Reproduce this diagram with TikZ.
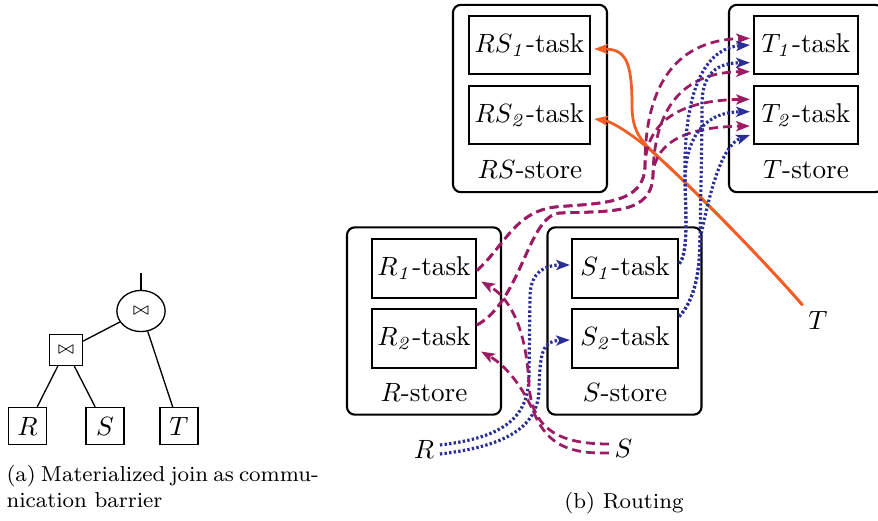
\documentclass[tikz,border=0pt]{standalone}
\usetikzlibrary{arrows.meta,calc,shapes.geometric}
\definecolor{routepurple}{RGB}{155,28,100}
\definecolor{routeblue}{RGB}{42,46,150}
\definecolor{routeorange}{RGB}{242,95,38}
\newcommand{\capsize}{\fontsize{8.2}{10}\selectfont}
\newcommand{\boxsize}{\fontsize{10.3}{12}\selectfont}
\newcommand{\joinsym}{{\fontsize{5.6}{6}\selectfont$\bowtie$}}
\begin{document}
\begin{tikzpicture}[x=0.379pt,y=-0.379pt,
  treebox/.style={draw, line width=0.5pt, minimum width=14.5pt, minimum height=14pt, inner sep=0pt},
  joinbox/.style={draw, line width=0.5pt, minimum width=12.5pt, minimum height=11.8pt, inner sep=0pt},
  joinoval/.style={draw, ellipse, line width=0.5pt, minimum width=18.3pt, minimum height=15.6pt, inner sep=0pt},
  store/.style={draw, line width=0.8pt, rounded corners=3pt, minimum width=58.4pt, minimum height=71pt, inner sep=0pt},
  task/.style={draw, line width=0.8pt, minimum height=22.2pt, inner xsep=2pt, font=\boxsize},
  storename/.style={inner sep=1pt, font=\boxsize},
  endname/.style={inner sep=2pt, font=\boxsize},
  tip/.style={-{Stealth[length=5.2pt,width=3.8pt,inset=1.2pt]}},
  rflow/.style={routepurple, line width=1.05pt, dash pattern=on 3.4pt off 1.9pt, tip},
  sflow/.style={routeblue, line width=1.2pt, dash pattern=on 0.9pt off 0.85pt, tip},
  tflow/.style={routeorange, line width=1.05pt, tip},
]
\useasboundingbox (0,0) rectangle (878,521);
\clip (0,0) rectangle (878,521);

% ---------- (a) plan with a materialized join ----------
\node[joinoval] (j2) at (141,311) {\joinsym};
\coordinate (jtop) at (141,273);
\node[joinbox] (j1) at (66,350) {\joinsym};
\node[treebox] (lr) at (27.5,426) {$R$};
\node[treebox] (ls) at (105,426) {$S$};
\node[treebox] (lt) at (179,426) {$T$};
\draw[line width=0.5pt] (j2.north) -- (jtop);
\draw[line width=0.5pt] (j1) -- (j2);
\draw[line width=0.5pt] (j1) -- (lr);
\draw[line width=0.5pt] (j1) -- (ls);
\draw[line width=0.5pt] (j2) -- (lt);

\node[anchor=base west, inner sep=0] (capa) at (6,481)
  {\capsize\makebox[118pt][s]{(a) Materialized join as commu-}};
\node[anchor=base west, inner sep=0] (capa2) at (6,507)
  {\capsize nication barrier};

% ---------- (b) routing between stores ----------
\node[store] (rsstore) at (530,98.5) {};
\node[task, minimum width=45.9pt] (rs1) at (529.5,45) {$RS_{\mathit{1}}$-task};
\node[task, minimum width=45.9pt] (rs2) at (529.5,115) {$RS_{\mathit{2}}$-task};
\node[storename] (rsname) at (530,170) {$RS$-store};

\node[store] (tstore) at (806,98.5) {};
\node[task, minimum width=39.4pt] (t1) at (806,45) {$T_{\mathit{1}}$-task};
\node[task, minimum width=39.4pt] (t2) at (806,115) {$T_{\mathit{2}}$-task};
\node[storename] (tname) at (806,170) {$T$-store};

\node[store] (rstore) at (424,321) {};
\node[task, minimum width=39.4pt] (r1) at (424,268.5) {$R_{\mathit{1}}$-task};
\node[task, minimum width=39.4pt] (r2) at (424,338.5) {$R_{\mathit{2}}$-task};
\node[storename] (rname) at (424,393) {$R$-store};

\node[store] (sstore) at (624.5,321) {};
\node[task, minimum width=40.2pt] (s1) at (625,268.5) {$S_{\mathit{1}}$-task};
\node[task, minimum width=40.2pt] (s2) at (625,338.5) {$S_{\mathit{2}}$-task};
\node[storename] (sname) at (625,393) {$S$-store};

\node[endname] (Rin) at (424,449.5) {$R$};
\node[endname] (Sin) at (623.5,448.5) {$S$};
\node[endname] (Tin) at (818,320) {$T$};

% T tuples go to both RS tasks (shared stem, then a fork)
\coordinate (tfork) at (655,154);
\draw[tflow] (Tin.north west) .. controls (765,262) and (700,195) .. (tfork)
  .. controls (630,132) and (610,121) .. ($(rs2.east)+(3,4)$);
\draw[tflow] (Tin.north west) .. controls (765,262) and (700,195) .. (tfork)
  .. controls (640,140) and (632,130) .. (632,105)
  .. controls (632,60) and (625,49) .. ($(rs1.east)+(3,4)$);

% R tuples probe the S tasks
\draw[sflow] ($(Rin.east)+(0,-4.5)$) .. controls (500,438) and (529,420) .. (529,375)
  -- (530,295) .. controls (531,272) and (545,265) .. ($(s1.west)+(-1,-3.5)$);
\draw[sflow] ($(Rin.east)+(0,4.5)$) .. controls (500,447) and (538,430) .. (539,390)
  .. controls (540,350) and (543,341) .. ($(s2.west)+(-1,1.5)$);

% S tuples probe the R tasks
\draw[rflow] ($(Sin.west)+(0,-4.5)$) .. controls (560,444) and (532,430) .. (529,385)
  .. controls (526,320) and (505,295) .. ($(r1.east)+(4,13)$);
\draw[rflow] ($(Sin.west)+(0,4.5)$) .. controls (570,454) and (548,445) .. (535,415)
  .. controls (522,385) and (505,365) .. ($(r2.east)+(4,13)$);

% results of the R tasks go to the T tasks
\draw[rflow] ($(r1.east)+(0,2)$) .. controls (505,245) and (515,212) .. (555,207)
  .. controls (600,203) and (645,205) .. (645,165)
  .. controls (645,80) and (680,40) .. ($(t1.west)+(-3,-6.7)$);
\draw[rflow] ($(r1.east)+(0,2)$) .. controls (505,245) and (515,212) .. (555,207)
  .. controls (600,203) and (645,205) .. (645,165)
  .. controls (647,115) and (690,100) .. ($(t2.west)+(-3,-15.7)$);
\draw[rflow] ($(r2.east)+(0,-13.5)$) .. controls (522,300) and (528,215) .. (560,213)
  .. controls (610,211) and (652,215) .. (653,175)
  .. controls (654,100) and (690,72) .. ($(t1.west)+(-3,26.7)$);
\draw[rflow] ($(r2.east)+(0,-13.5)$) .. controls (522,300) and (528,215) .. (560,213)
  .. controls (610,211) and (652,215) .. (653,175)
  .. controls (655,140) and (690,127) .. ($(t2.west)+(-3,11)$);

% results of the S tasks go to the T tasks
\draw[sflow] ($(s1.east)+(0,-5)$) .. controls (688,255) and (686,220) .. (685,180)
  .. controls (683,90) and (705,48) .. ($(t1.west)+(-3,0)$);
\draw[sflow] ($(s1.east)+(0,-5)$) .. controls (688,255) and (686,220) .. (685,180)
  .. controls (686,130) and (710,112) .. ($(t2.west)+(-3,-3.3)$);
\draw[sflow] ($(s2.east)+(0,-22)$) .. controls (695,300) and (700,270) .. (700,240)
  .. controls (701,180) and (702,140) .. (702,105)
  .. controls (702,72) and (718,63) .. ($(t1.west)+(-3,17.7)$);
\draw[sflow] ($(s2.east)+(0,-22)$) .. controls (695,300) and (700,270) .. (700,240)
  .. controls (710,190) and (722,145) .. ($(t2.west)+(-3,20)$);

\node[anchor=base, inner sep=0] (capb) at (624,508) {\capsize (b) Routing};
\end{tikzpicture}
\end{document}
